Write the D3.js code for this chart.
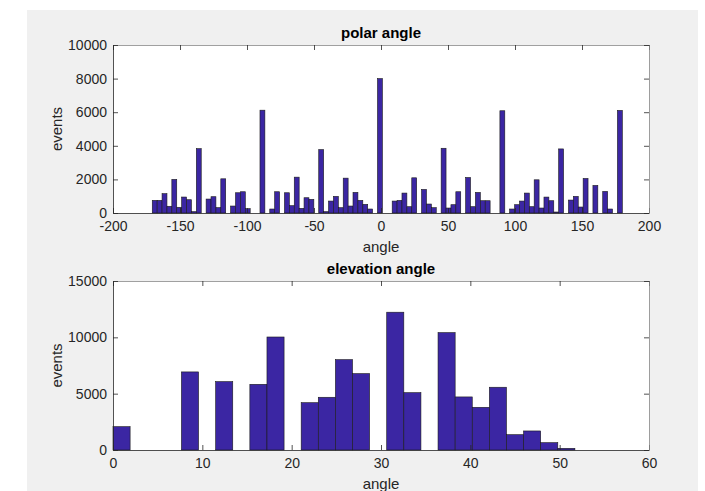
<!DOCTYPE html>
<html>
<head>
<meta charset="utf-8">
<script src="https://cdn.jsdelivr.net/npm/d3@7"></script>
<style>
  body { margin: 0; background: #fff; }
  text { font-family: "Liberation Sans", Arial, sans-serif; }
</style>
</head>
<body>
<div id="canvas"></div>
<script>
"use strict"

/* polar angle histogram: 96 bins */
const polarStart = -170.7;
const polarWidth = 3.654;
const polarCounts = [
  750, 750, 1150, 400, 2000, 340, 950, 790, 80, 3830,
  0, 830, 970, 320, 2035, 0, 415, 1205, 1265, 257,
  0, 0, 6120, 0, 237, 1265, 0, 1205, 435, 2134,
  277, 909, 810, 0, 3774, 79, 711, 988, 316, 2075,
  415, 1225, 750, 514, 237, 0, 8000, 0, 0, 711,
  750, 1186, 375, 2095, 0, 1403, 534, 316, 0, 3853,
  296, 494, 1265, 0, 2114, 375, 1225, 731, 731, 0,
  0, 6086, 0, 237, 494, 711, 1186, 375, 1976, 296,
  948, 731, 59, 3814, 0, 770, 988, 356, 2055, 0,
  1640, 0, 1284, 237, 0, 6106
];
const polarXTicks = [-200, -150, -100, -50, 0, 50, 100, 150, 200];
const polarYTicks = [0, 2000, 4000, 6000, 8000, 10000];

/* elevation angle histogram: 27 bins */
const elevStart = 0;
const elevWidth = 1.915;
const elevCounts = [
  2070, 0, 0, 0, 6930, 0, 6070, 0, 5830, 10030,
  0, 4200, 4680, 8020, 6780, 0, 12230, 5090, 0, 10420,
  4710, 3790, 5570, 1360, 1690, 650, 150
];
const elevXTicks = [0, 10, 20, 30, 40, 50, 60];
const elevYTicks = [0, 5000, 10000, 15000];

const W = 705, H = 491;
const barFill = "#3b26a3";
const axisColor = "#262626";

let svg = d3.select("#canvas")
    .append("svg")
    .attr("width", W)
    .attr("height", H);

/* figure background */
svg.append("rect")
    .attr("x", 27)
    .attr("y", 10)
    .attr("width", 671)
    .attr("height", H - 10)
    .attr("fill", "#f0f0f0");

function drawHist(opts) {
    let x = d3.scaleLinear().domain(opts.xDomain).range([113, 649]);
    let y = d3.scaleLinear().domain(opts.yDomain).range([opts.bottom, opts.top]);
    let fmt = d => String(d);

    let g = svg.append("g");

    g.append("rect")
        .attr("x", 113)
        .attr("y", opts.top)
        .attr("width", 536)
        .attr("height", opts.bottom - opts.top)
        .attr("fill", "#fff");

    let bins = opts.counts.map((c, i) => ({
        x0: opts.start + i * opts.width,
        x1: opts.start + (i + 1) * opts.width,
        c: c
    }));

    g.selectAll("rect.bar")
        .data(bins)
        .enter().append("rect")
        .attr("class", "bar")
        .attr("x", d => x(d.x0))
        .attr("width", d => x(d.x1) - x(d.x0))
        .attr("y", d => y(d.c))
        .attr("height", d => y(0) - y(d.c))
        .attr("fill", barFill)
        .attr("stroke", "#1a1a1a")
        .attr("stroke-width", 0.6);

    // axes, ticks pointing inside
    let bottomAxis = g.append("g")
        .attr("transform", `translate(0,${opts.bottom})`)
        .call(d3.axisBottom(x).tickValues(opts.xTicks).tickFormat(fmt)
            .tickSize(-5).tickPadding(8).tickSizeOuter(0));
    let topAxis = g.append("g")
        .attr("transform", `translate(0,${opts.top})`)
        .call(d3.axisTop(x).tickValues(opts.xTicks).tickSize(-5).tickFormat("").tickSizeOuter(0));
    let leftAxis = g.append("g")
        .attr("transform", "translate(113,0)")
        .call(d3.axisLeft(y).tickValues(opts.yTicks).tickFormat(fmt)
            .tickSize(-5).tickPadding(6).tickSizeOuter(0));
    let rightAxis = g.append("g")
        .attr("transform", "translate(649,0)")
        .call(d3.axisRight(y).tickValues(opts.yTicks).tickSize(-5).tickFormat("").tickSizeOuter(0));

    [bottomAxis, topAxis, leftAxis, rightAxis].forEach(a => {
        a.selectAll("path").attr("stroke", axisColor).attr("stroke-width", 0.8);
        a.selectAll("line").attr("stroke", axisColor).attr("stroke-width", 0.8);
        a.selectAll("text")
            .attr("fill", axisColor)
            .style("font-family", "'Liberation Sans', Arial, sans-serif")
            .style("font-size", "14px");
    });
    [topAxis, rightAxis].forEach(a => a.selectAll("path").attr("stroke", "#888"));

    // title
    g.append("text")
        .attr("x", 381)
        .attr("y", opts.top - 7)
        .attr("text-anchor", "middle")
        .attr("font-size", "15px")
        .attr("font-weight", "bold")
        .attr("fill", "#000")
        .text(opts.title);

    // x label
    g.append("text")
        .attr("x", 381)
        .attr("y", opts.bottom + 39)
        .attr("text-anchor", "middle")
        .attr("font-size", "15px")
        .attr("fill", axisColor)
        .text("angle");

    // y label
    g.append("text")
        .attr("transform", `translate(62,${(opts.top + opts.bottom) / 2}) rotate(-90)`)
        .attr("text-anchor", "middle")
        .attr("font-size", "15px")
        .attr("fill", axisColor)
        .text("events");
}

drawHist({
    title: "polar angle",
    xDomain: [-200, 200], yDomain: [0, 10000],
    top: 45, bottom: 213,
    start: polarStart, width: polarWidth, counts: polarCounts,
    xTicks: polarXTicks, yTicks: polarYTicks
});

drawHist({
    title: "elevation angle",
    xDomain: [0, 60], yDomain: [0, 15000],
    top: 281, bottom: 450,
    start: elevStart, width: elevWidth, counts: elevCounts,
    xTicks: elevXTicks, yTicks: elevYTicks
});
</script>
</body>
</html>
